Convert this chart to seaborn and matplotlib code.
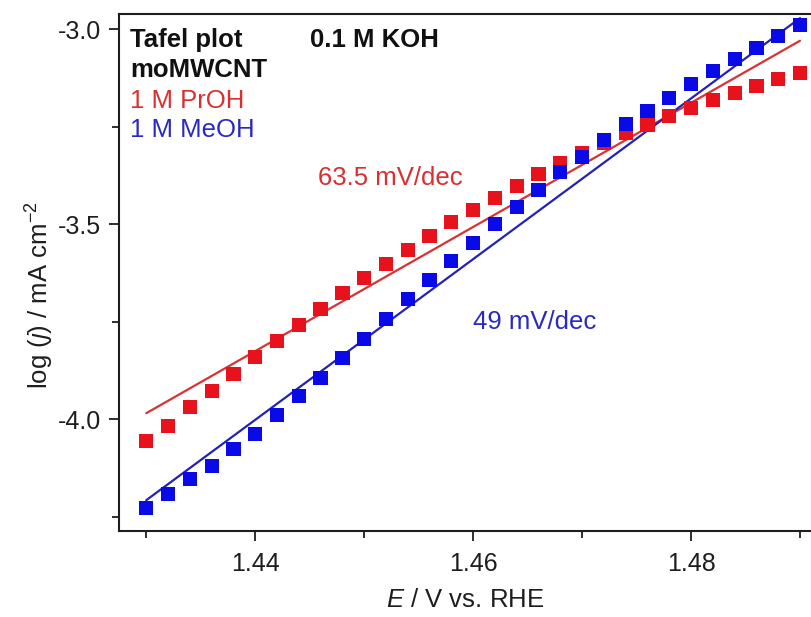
import numpy as np
import pandas as pd
import matplotlib
matplotlib.use("Agg")
import matplotlib.pyplot as plt
import seaborn as sns

# ---- data ----
potential = [1.430, 1.432, 1.434, 1.436, 1.438, 1.440, 1.442, 1.444, 1.446, 1.448,
             1.450, 1.452, 1.454, 1.456, 1.458, 1.460, 1.462, 1.464, 1.466, 1.468,
             1.470, 1.472, 1.474, 1.476, 1.478, 1.480, 1.482, 1.484, 1.486, 1.488, 1.490]
log_j_proh = [-4.056, -4.018, -3.969, -3.928, -3.885, -3.841, -3.800, -3.759, -3.718, -3.677,
              -3.638, -3.603, -3.567, -3.531, -3.495, -3.464, -3.433, -3.403, -3.372, -3.344,
              -3.318, -3.292, -3.267, -3.246, -3.223, -3.203, -3.182, -3.164, -3.146, -3.128, -3.113]
log_j_meoh = [-4.228, -4.192, -4.154, -4.121, -4.077, -4.038, -3.990, -3.941, -3.895, -3.844,
              -3.795, -3.744, -3.692, -3.644, -3.595, -3.549, -3.500, -3.456, -3.413, -3.367,
              -3.328, -3.285, -3.244, -3.210, -3.177, -3.141, -3.108, -3.077, -3.049, -3.018, -2.990]
fit_x = [1.430, 1.490]
fit_proh = [-3.985, -3.030]
fit_meoh = [-4.208, -2.972]

x_major = [1.44, 1.46, 1.48]
x_minor = [1.43, 1.45, 1.47, 1.49]
y_major = [-4.0, -3.5, -3.0]
y_minor = [-4.25, -3.75, -3.25]

# ---- style ----
sns.set_theme(style="ticks")
plt.rcParams["font.family"] = ["Liberation Sans", "DejaVu Sans"]
plt.rcParams["mathtext.fontset"] = "custom"
plt.rcParams["mathtext.rm"] = "Liberation Sans"
plt.rcParams["mathtext.it"] = "Liberation Sans:italic"
plt.rcParams["axes.unicode_minus"] = False

RED_M = "#E8121C"
BLUE_M = "#0A0AE8"
RED_L = "#D63434"
BLUE_L = "#2222B8"
RED_T = "#D83030"
BLUE_T = "#2A2AC0"
INK = "#1E1E1E"

fig = plt.figure(figsize=(8.12, 6.17), dpi=100)
ax = fig.add_axes([0.1466, 0.1394, 0.8534, 0.8379])

df = pd.DataFrame({"E": potential + potential,
                   "logj": log_j_proh + log_j_meoh,
                   "series": ["PrOH"] * len(potential) + ["MeOH"] * len(potential)})
fit = pd.DataFrame({"E": fit_x + fit_x,
                    "logj": fit_proh + fit_meoh,
                    "series": ["PrOH"] * 2 + ["MeOH"] * 2})
pal = {"PrOH": RED_M, "MeOH": BLUE_M}
pal_l = {"PrOH": RED_L, "MeOH": BLUE_L}

sns.lineplot(data=fit, x="E", y="logj", hue="series", palette=pal_l, ax=ax,
             linewidth=1.6, legend=False, zorder=2)
sns.scatterplot(data=df, x="E", y="logj", hue="series", palette=pal, ax=ax,
                marker="s", s=105, linewidth=0, legend=False, zorder=3)

ax.set_xlim(1.4275, 1.4911)
ax.set_ylim(-4.287, -2.9615)
ax.set_xticks(x_major)
ax.set_xticks(x_minor, minor=True)
ax.set_yticks(y_major)
ax.set_yticks(y_minor, minor=True)
ax.set_xticklabels([f"{v:.2f}" for v in x_major])
ax.set_yticklabels([f"{v:.1f}" for v in y_major])
ax.tick_params(axis="both", which="major", direction="out", length=7, width=1.3,
               labelsize=18, colors=INK, pad=6)
ax.tick_params(axis="both", which="minor", direction="out", length=5, width=1.3, colors=INK)
ax.tick_params(axis="x", which="major", pad=8)

for side in ["left", "bottom", "top"]:
    ax.spines[side].set_linewidth(1.5)
    ax.spines[side].set_color(INK)
ax.spines["right"].set_visible(False)

ax.set_xlabel(r"$\it{E}$ / V vs. RHE", fontsize=18.5, color=INK)
ax.set_ylabel(r"log ($\it{j}$) / mA cm$^{-2}$", fontsize=18.5, color=INK)
ax.xaxis.set_label_coords(0.499, -0.133)
ax.yaxis.set_label_coords(-0.114, 0.456)
ax.xaxis.label.set_va("center")
ax.yaxis.label.set_va("center")

tkw = dict(transform=ax.transAxes, fontsize=18.5, va="center")
ax.text(0.016, 0.950, "Tafel plot", fontweight="bold", color="#111111", **tkw)
ax.text(0.276, 0.950, "0.1 M KOH", fontweight="bold", color="#111111", **tkw)
ax.text(0.016, 0.892, "moMWCNT", fontweight="bold", color="#111111", **tkw)
ax.text(0.016, 0.832, "1 M PrOH", color=RED_T, **tkw)
ax.text(0.016, 0.776, "1 M MeOH", color=BLUE_T, **tkw)
ax.text(0.391, 0.683, "63.5 mV/dec", color=RED_T, ha="center", **tkw)
ax.text(0.600, 0.404, "49 mV/dec", color=BLUE_T, ha="center", **tkw)

fig.savefig("out.png", dpi=100)
